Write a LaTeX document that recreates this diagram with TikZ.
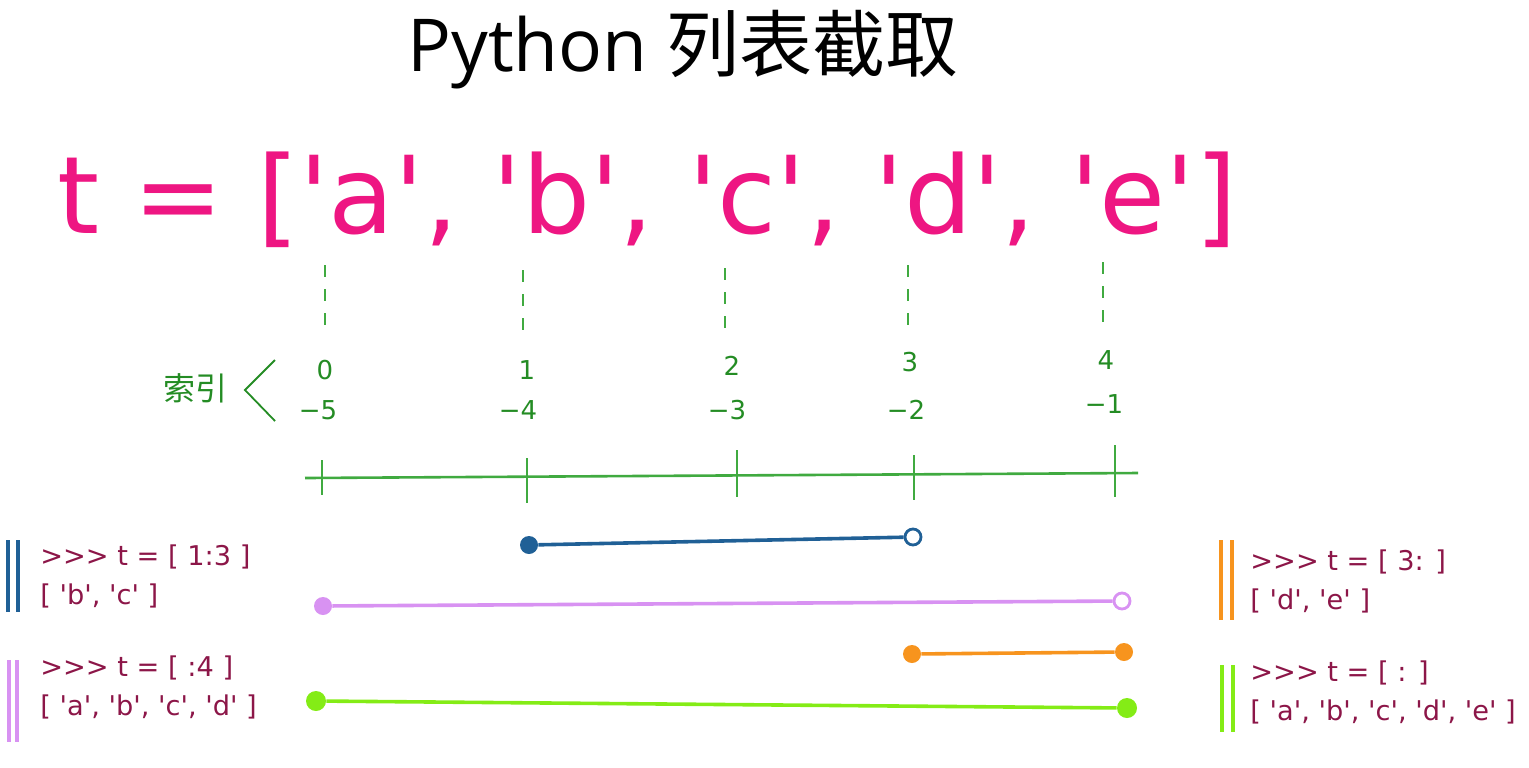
\documentclass[tikz,border=0pt]{standalone}
\usepackage{fontspec}
\setmainfont{Open Sans}[Ligatures=TeXOff]
\newfontfamily\cjk{Noto Sans CJK SC}
\newfontfamily\listfont{DejaVu Sans}[Ligatures=TeXOff]
\usetikzlibrary{positioning}
\definecolor{listpink}{RGB}{238,22,130}
\definecolor{idxgreen}{RGB}{36,140,36}
\definecolor{axisgreen}{RGB}{64,170,64}
\definecolor{codered}{RGB}{140,22,72}
\definecolor{sliceblue}{RGB}{32,96,150}
\definecolor{sliceviolet}{RGB}{216,146,242}
\definecolor{sliceorange}{RGB}{247,148,30}
\definecolor{slicelime}{RGB}{132,236,22}

\begin{document}
\begin{tikzpicture}[x=0.5pt, y=-0.5pt,
  idx/.style={text=idxgreen, font=\listfont\fontsize{13}{15}\selectfont, inner sep=0pt},
  code/.style={text=codered, font=\listfont\fontsize{13.6}{19.5}\selectfont, anchor=west, inner sep=0pt, align=left},
  endfull/.style={circle, fill=#1, minimum size=9pt, inner sep=0pt},
  endopen/.style={circle, draw=#1, fill=white, line width=1.4pt, minimum size=8pt, inner sep=0pt},
  bars/.style={line width=1.6pt}]
  \useasboundingbox (0,0) rectangle (1529,767);

  % title and list
  \node (title) at (683,50) {\fontsize{36.5}{44}\selectfont Python {\cjk 列表截取}};
  \node[text=listpink, font=\listfont\fontsize{53.7}{64}\selectfont] (listexpr) at (647,200) {t = ['a', 'b', 'c', 'd', 'e']};

  % dashed guides from the elements
  \draw[axisgreen, dashed, line width=1.3pt, dash pattern=on 6pt off 6pt] (325,265) -- (325,335);
  \draw[axisgreen, dashed, line width=1.3pt, dash pattern=on 6pt off 6pt] (523,270) -- (523,335);
  \draw[axisgreen, dashed, line width=1.3pt, dash pattern=on 6pt off 6pt] (725,268) -- (725,335);
  \draw[axisgreen, dashed, line width=1.3pt, dash pattern=on 6pt off 6pt] (908,265) -- (908,330);
  \draw[axisgreen, dashed, line width=1.3pt, dash pattern=on 6pt off 6pt] (1103,262) -- (1103,328);

  % indices
  \node[idx] (pos0) at (325,370) {0};
  \node[idx] (neg0) at (318,410) {−5};
  \node[idx] (pos1) at (527,370) {1};
  \node[idx] (neg1) at (518,410) {−4};
  \node[idx] (pos2) at (732,366) {2};
  \node[idx] (neg2) at (727,410) {−3};
  \node[idx] (pos3) at (910,362) {3};
  \node[idx] (neg3) at (906,410) {−2};
  \node[idx] (pos4) at (1106,360) {4};
  \node[idx] (neg4) at (1104,404) {−1};
  \node[text=idxgreen, font=\cjk\fontsize{16}{18}\selectfont] (idxlabel) at (195,388) {索引};
  \draw[idxgreen, line width=0.9pt] (275,360) -- (245,390) -- (275,421);

  % axis
  \draw[axisgreen, line width=1.3pt] (305,478) -- (1138,473);
  \draw[axisgreen, line width=1.3pt] (322,460) -- (322,495);
  \draw[axisgreen, line width=1.3pt] (527,458) -- (527,503);
  \draw[axisgreen, line width=1.3pt] (737,450) -- (737,497);
  \draw[axisgreen, line width=1.3pt] (914,455) -- (914,500);
  \draw[axisgreen, line width=1.3pt] (1115,445) -- (1115,497);

  % slices
  \node[endfull=sliceblue] (blueA) at (529,545) {};
  \node[endopen=sliceblue] (blueB) at (913,537) {};
  \draw[sliceblue, line width=1.8pt] (blueA) -- (blueB);
  \node[endfull=sliceviolet] (violetA) at (323,606) {};
  \node[endopen=sliceviolet] (violetB) at (1122,601) {};
  \draw[sliceviolet, line width=1.8pt] (violetA) -- (violetB);
  \node[endfull=sliceorange] (orangeA) at (912,654) {};
  \node[endfull=sliceorange] (orangeB) at (1124,652) {};
  \draw[sliceorange, line width=1.8pt] (orangeA) -- (orangeB);
  \node[endfull=slicelime, minimum size=10pt] (limeA) at (316,701) {};
  \node[endfull=slicelime, minimum size=10pt] (limeB) at (1127,708) {};
  \draw[slicelime, line width=1.8pt] (limeA) -- (limeB);

  % code samples
  \draw[sliceblue, bars] (8,540) -- (8,612) (18,540) -- (18,612);
  \node[code] (codeblue) at (40,576) {>>> t = [ 1:3 ]\\{[} 'b', 'c' ]};
  \draw[sliceviolet, bars] (9,660) -- (9,742) (17,660) -- (17,742);
  \node[code] (codeviolet) at (40,687) {>>> t = [ :4 ]\\{[} 'a', 'b', 'c', 'd' ]};
  \draw[sliceorange, bars] (1221,540) -- (1221,620) (1232,540) -- (1232,620);
  \node[code] (codeorange) at (1250,581) {>>> t = [ 3: ]\\{[} 'd', 'e' ]};
  \draw[slicelime, bars] (1222,665) -- (1222,732) (1233,665) -- (1233,732);
  \node[code] (codelime) at (1250,692) {>>> t = [ : ]\\{[} 'a', 'b', 'c', 'd', 'e' ]};
\end{tikzpicture}
\end{document}
